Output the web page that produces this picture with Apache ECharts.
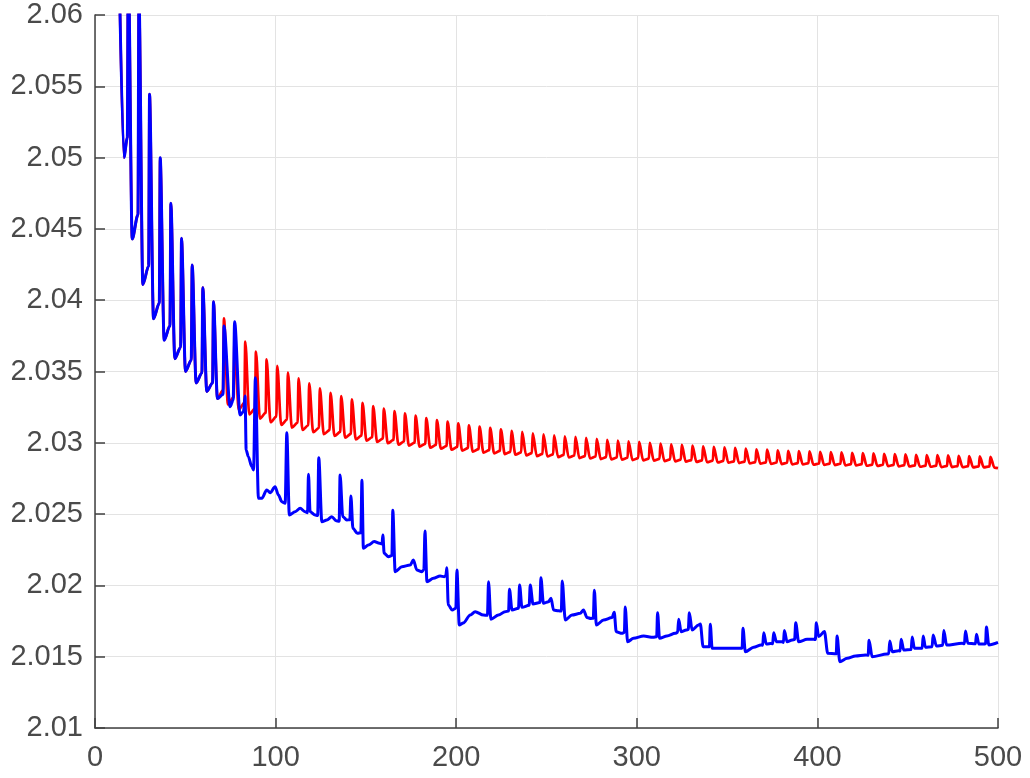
<!DOCTYPE html>
<html>
<head>
<meta charset="utf-8">
<script src="https://cdn.jsdelivr.net/npm/echarts@6/dist/echarts.min.js"></script>
<style>
  html, body { margin: 0; padding: 0; background: #fff; }
  #charts { width: 1030px; height: 778px; }
</style>
</head>
<body>
<div id="charts"></div>
<script>
// spike positions (x) shared by both curves
const spikeX = [18.4, 24.3, 30.2, 36.1, 42.0, 47.9, 53.8, 59.7, 65.6, 71.4,
	77.3, 83.2, 89.1, 95.0, 100.9, 106.8, 112.7, 118.6, 124.5, 130.4,
	136.3, 142.2, 148.1, 154.0, 159.9, 165.8, 171.6, 177.5, 183.4, 189.3,
	195.2, 201.1, 207.0, 212.9, 218.8, 224.7, 230.6, 236.5, 242.4, 248.3,
	254.2, 260.1, 266.0, 271.9, 277.8, 283.6, 289.5, 295.4, 301.3, 307.2,
	313.1, 319.0, 324.9, 330.8, 336.7, 342.6, 348.5, 354.4, 360.3, 366.2,
	372.1, 378.0, 383.8, 389.7, 395.6, 401.5, 407.4, 413.3, 419.2, 425.1,
	431.0, 436.9, 442.8, 448.7, 454.6, 460.5, 466.4, 472.3, 478.2, 484.0,
	489.9, 495.8];

// red curve: top of each spike
const redPeak = [2.064, 2.0615, 2.05444, 2.04999, 2.0468, 2.04434, 2.04247, 2.04088, 2.03989, 2.03873,
	2.03791, 2.03709, 2.03639, 2.03585, 2.03539, 2.03492, 2.03452, 2.03417, 2.03382, 2.03351,
	2.03328, 2.03305, 2.03281, 2.03258, 2.03239, 2.03223, 2.03207, 2.0319, 2.03174, 2.0316,
	2.03148, 2.03137, 2.03123, 2.03113, 2.03105, 2.03095, 2.03083, 2.03076, 2.03067, 2.0306,
	2.03053, 2.03046, 2.03041, 2.03034, 2.03027, 2.0302, 2.03015, 2.03011, 2.03006, 2.02999,
	2.02994, 2.0299, 2.02985, 2.0298, 2.02975, 2.02971, 2.02968, 2.02964, 2.02959, 2.02954,
	2.02952, 2.02947, 2.02944, 2.02942, 2.0294, 2.02937, 2.02935, 2.02933, 2.0293, 2.02928,
	2.02926, 2.02923, 2.02921, 2.02919, 2.02916, 2.02914, 2.02914, 2.02912, 2.02909, 2.02907,
	2.02905, 2.02902];

// red curve: trough after each spike
const redLow = [2.0443, 2.0411, 2.0387, 2.0372, 2.0359, 2.035, 2.0342, 2.0336, 2.0331, 2.0327,
	2.0323, 2.032, 2.0317, 2.03144, 2.03125, 2.03106, 2.0309, 2.03074, 2.0306, 2.03048,
	2.03036, 2.03024, 2.03015, 2.03006, 2.02997, 2.02987, 2.0298, 2.02973, 2.02966, 2.02959,
	2.02952, 2.02945, 2.02938, 2.02931, 2.02926, 2.02921, 2.02917, 2.02912, 2.02907, 2.02904,
	2.029, 2.02897, 2.02893, 2.0289, 2.02886, 2.02884, 2.02882, 2.02879, 2.02877, 2.02875,
	2.02872, 2.0287, 2.02868, 2.02866, 2.02864, 2.02862, 2.0286, 2.02858, 2.02855, 2.02853,
	2.02852, 2.02851, 2.02849, 2.02848, 2.02846, 2.02845, 2.02844, 2.02842, 2.02841, 2.02839,
	2.02838, 2.02837, 2.02835, 2.02834, 2.02832, 2.02832, 2.0283, 2.0283, 2.02829, 2.02828,
	2.02828, 2.02826];

// red curve: level just before each spike rises
const redPre = [2.0514, 2.046, 2.0424, 2.0398, 2.0382, 2.0367, 2.0358, 2.0349, 2.0342, 2.0337,
	2.0332, 2.0328, 2.0324, 2.0321, 2.03184, 2.03162, 2.03141, 2.03123, 2.03105, 2.03089,
	2.03076, 2.03063, 2.0305, 2.03039, 2.03029, 2.0302, 2.03009, 2.03001, 2.02993, 2.02985,
	2.02978, 2.02971, 2.02963, 2.02956, 2.02948, 2.02943, 2.02937, 2.02933, 2.02928, 2.02922,
	2.02919, 2.02915, 2.02911, 2.02907, 2.02904, 2.02899, 2.02897, 2.02895, 2.02892, 2.02889,
	2.02887, 2.02884, 2.02882, 2.02879, 2.02877, 2.02875, 2.02873, 2.0287, 2.02868, 2.02865,
	2.02863, 2.02862, 2.0286, 2.02858, 2.02857, 2.02855, 2.02854, 2.02853, 2.02851, 2.0285,
	2.02847, 2.02846, 2.02845, 2.02843, 2.02842, 2.0284, 2.0284, 2.02838, 2.02837, 2.02836,
	2.02835, 2.02835];

const headPts = [[12.5, 2.07], [16.0, 2.05]];
const redEnd = [500, 2.02822];

// blue curve after it leaves the red one
const blueTail = [
	[70.9, 2.0334], [71.4, 2.03819], [74.8, 2.03253], [76.5, 2.033], [77.3, 2.03849],
	[80.3, 2.03195], [82.2, 2.03218], [83.1, 2.03328], [83.7, 2.0295], [84.9, 2.02903],
	[86.8, 2.02833], [87.8, 2.0281], [88.8, 2.03457], [90.5, 2.02611], [92.4, 2.02611],
	[95.1, 2.02669], [97.0, 2.0265], [99.7, 2.02692], [101.6, 2.02634], [103.4, 2.02587],
	[105.3, 2.02576], [106.2, 2.03071], [107.6, 2.02494], [110.8, 2.02517], [113.6, 2.02541],
	[116.3, 2.02517], [117.7, 2.0251], [118.2, 2.02779], [119.1, 2.02517], [121.9, 2.02494],
	[123.3, 2.0249], [123.9, 2.02896], [125.6, 2.02447], [128.4, 2.02459], [131.1, 2.02482],
	[133.5, 2.02454], [135.2, 2.0245], [135.7, 2.02774], [137.2, 2.02482], [139.4, 2.02459],
	[141.1, 2.0246], [141.7, 2.02627], [142.8, 2.024], [145.3, 2.02365], [147.2, 2.0237],
	[147.8, 2.02737], [148.6, 2.0226], [151.4, 2.02283], [154.6, 2.02307], [157.5, 2.02295],
	[158.9, 2.0229], [159.4, 2.02353], [160.1, 2.02225], [162.5, 2.02201], [164.4, 2.0221],
	[164.9, 2.02527], [166.2, 2.02096], [169.9, 2.02131], [174.5, 2.02143], [176.3, 2.02178],
	[178.2, 2.02108], [181.0, 2.02096], [182.1, 2.0211], [182.7, 2.02381], [183.8, 2.02026],
	[187.4, 2.0205], [191.1, 2.02066], [193.4, 2.02061], [194.3, 2.0207], [194.8, 2.02124],
	[195.6, 2.01863], [197.8, 2.01827], [199.8, 2.0184], [200.4, 2.02108], [201.7, 2.01722],
	[203.9, 2.01736], [207.8, 2.01792], [210.5, 2.01816], [215.1, 2.01792], [217.3, 2.0179],
	[217.9, 2.02026], [219.2, 2.01762], [223.4, 2.01792], [227.1, 2.01816], [229.0, 2.0182],
	[229.5, 2.01973], [230.9, 2.01827], [234.5, 2.0184], [235.1, 2.02003], [236.4, 2.01846],
	[240.4, 2.0186], [241.0, 2.02003], [242.5, 2.0187], [246.4, 2.0188], [246.9, 2.02054],
	[248.3, 2.01874], [251.1, 2.01886], [252.5, 2.0191], [253.9, 2.01827], [256.7, 2.01822],
	[258.2, 2.0182], [258.7, 2.02031], [260.4, 2.01757], [264.1, 2.01792], [268.7, 2.01804],
	[270.5, 2.01827], [272.4, 2.01775], [274.6, 2.01768], [275.9, 2.0177], [276.5, 2.01966],
	[277.6, 2.01722], [281.6, 2.01757], [286.3, 2.01775], [287.5, 2.01811], [288.6, 2.01675],
	[291.8, 2.01664], [293.1, 2.0167], [293.6, 2.01849], [294.9, 2.01605], [298.2, 2.01629],
	[303.8, 2.01645], [309.0, 2.01636], [311.0, 2.0164], [311.5, 2.01809], [312.6, 2.01629],
	[316.7, 2.01645], [321.3, 2.01664], [322.6, 2.0167], [323.2, 2.01762], [324.5, 2.01675],
	[327.4, 2.01687], [328.5, 2.0169], [329.1, 2.01809], [330.6, 2.01687], [334.2, 2.01722],
	[335.2, 2.01729], [336.7, 2.0157], [340.2, 2.0157], [340.7, 2.01727], [341.7, 2.01559],
	[348.1, 2.01559], [355.5, 2.01559], [358.3, 2.0156], [358.8, 2.01699], [360.1, 2.01535],
	[364.7, 2.01566], [368.8, 2.01582], [369.7, 2.0158], [370.3, 2.01668], [371.7, 2.01589],
	[374.7, 2.01594], [375.2, 2.0159], [375.8, 2.01668], [377.3, 2.01605], [380.4, 2.01605],
	[381.2, 2.016], [381.7, 2.01683], [383.2, 2.01605], [386.0, 2.01617], [387.4, 2.0162],
	[388.0, 2.01738], [389.6, 2.01605], [394.3, 2.01622], [398.0, 2.01622], [398.9, 2.0162],
	[399.4, 2.01738], [400.7, 2.01641], [403.9, 2.01676], [405.7, 2.01524], [410.4, 2.0152],
	[410.9, 2.01645], [412.4, 2.01465], [416.5, 2.01489], [421.1, 2.01505], [426.6, 2.01512],
	[428.1, 2.0151], [428.6, 2.01615], [430.3, 2.015], [438.6, 2.01519], [439.5, 2.0152],
	[440.1, 2.0161], [441.4, 2.01535], [445.0, 2.01542], [445.8, 2.0154], [446.4, 2.01622],
	[447.8, 2.01547], [451.9, 2.0155], [452.5, 2.01638], [453.7, 2.01559], [458.0, 2.0156],
	[458.6, 2.01645], [459.8, 2.01566], [463.5, 2.0157], [464.1, 2.01652], [465.9, 2.01575],
	[469.4, 2.0158], [470.0, 2.01683], [471.5, 2.01582], [480.2, 2.01594], [481.4, 2.0159],
	[482.0, 2.0168], [483.3, 2.01594], [487.5, 2.0159], [488.1, 2.01657], [489.4, 2.01589],
	[492.1, 2.01589], [493.1, 2.0159], [493.6, 2.01708], [494.9, 2.01582], [500, 2.016]
];

var myChart = echarts.init(document.getElementById('charts'));

const redData = [];
headPts.forEach((p) => redData.push(p));
spikeX.forEach((x, k) => {
	redData.push([x - 0.5, redPre[k]]);
	redData.push([x, redPeak[k]]);
	redData.push([x + 2.2, redLow[k]]);
});
redData.push(redEnd);

// both curves are the same up to the spike near x = 71
const blueData = redData.filter((p) => p[0] < 70).concat(blueTail);

const axisColor = '#404040';
const labelFont = {
	color: '#4a4a4a',
	fontSize: 29,
	fontFamily: 'Liberation Sans, Helvetica, Arial, sans-serif'
};

let option = {
	animation: false,
	backgroundColor: '#ffffff',
	grid: {
		left: 95,
		right: 32,
		top: 15,
		bottom: 50
	},
	xAxis: {
		type: 'value',
		min: 0,
		max: 500,
		interval: 100,
		axisLine: { show: true, lineStyle: { color: axisColor, width: 1.5 } },
		axisTick: { show: true, inside: true, length: 10, lineStyle: { color: axisColor, width: 1.5 } },
		axisLabel: Object.assign({ margin: 15 }, labelFont),
		splitLine: { show: true, lineStyle: { color: '#e3e3e3', width: 1 } }
	},
	yAxis: {
		type: 'value',
		min: 2.01,
		max: 2.06,
		interval: 0.005,
		axisLine: { show: true, lineStyle: { color: axisColor, width: 1.5 } },
		axisTick: { show: true, inside: true, length: 10, lineStyle: { color: axisColor, width: 1.5 } },
		axisLabel: Object.assign({
			margin: 12,
			formatter: function (v) {
				return String(parseFloat(v.toFixed(3)));
			}
		}, labelFont),
		splitLine: { show: true, lineStyle: { color: '#e3e3e3', width: 1 } }
	},
	series: [
		{
			type: 'line',
			name: 'red',
			data: redData,
			showSymbol: false,
			clip: true,
			smooth: 0.3,
			smoothMonotone: 'x',
			color: '#ff0000',
			lineStyle: { color: '#ff0000', width: 2.7 }
		},
		{
			type: 'line',
			name: 'blue',
			data: blueData,
			showSymbol: false,
			clip: true,
			smooth: 0.3,
			smoothMonotone: 'x',
			color: '#0000ff',
			lineStyle: { color: '#0000ff', width: 3 }
		}
	]
};

myChart.setOption(option);
</script>
</body>
</html>
